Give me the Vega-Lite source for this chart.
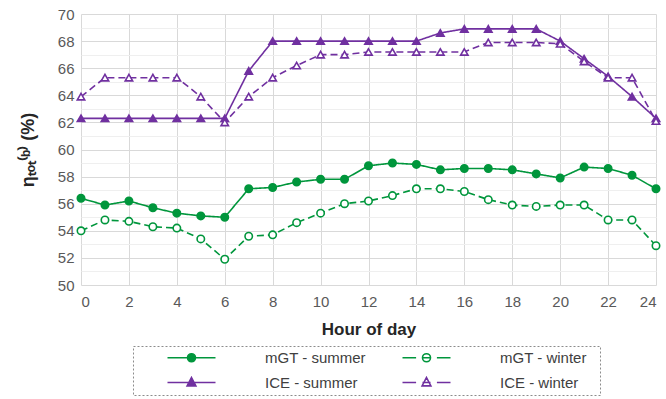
{
  "$schema": "https://vega.github.io/schema/vega-lite/v6.json",
  "width": 575,
  "height": 271,
  "autosize": {"type": "none"},
  "padding": {"left": 81, "top": 14, "right": 10, "bottom": 114},
  "background": "white",
  "config": {"view": {"stroke": null}, "font": "Liberation Sans", "legend": {"strokeDash": [2, 2], "strokeWidth": 1}},
  "datasets": {
    "rows": [
      {"hour":0,"series":"mGT - summer","eta":56.4},{"hour":1,"series":"mGT - summer","eta":55.9},{"hour":2,"series":"mGT - summer","eta":56.2},{"hour":3,"series":"mGT - summer","eta":55.7},{"hour":4,"series":"mGT - summer","eta":55.3},{"hour":5,"series":"mGT - summer","eta":55.1},{"hour":6,"series":"mGT - summer","eta":55.0},{"hour":7,"series":"mGT - summer","eta":57.1},{"hour":8,"series":"mGT - summer","eta":57.2},{"hour":9,"series":"mGT - summer","eta":57.6},{"hour":10,"series":"mGT - summer","eta":57.8},{"hour":11,"series":"mGT - summer","eta":57.8},{"hour":12,"series":"mGT - summer","eta":58.8},{"hour":13,"series":"mGT - summer","eta":59.0},{"hour":14,"series":"mGT - summer","eta":58.9},{"hour":15,"series":"mGT - summer","eta":58.5},{"hour":16,"series":"mGT - summer","eta":58.6},{"hour":17,"series":"mGT - summer","eta":58.6},{"hour":18,"series":"mGT - summer","eta":58.5},{"hour":19,"series":"mGT - summer","eta":58.2},{"hour":20,"series":"mGT - summer","eta":57.9},{"hour":21,"series":"mGT - summer","eta":58.7},{"hour":22,"series":"mGT - summer","eta":58.6},{"hour":23,"series":"mGT - summer","eta":58.1},{"hour":24,"series":"mGT - summer","eta":57.1},
      {"hour":0,"series":"mGT - winter","eta":54.0},{"hour":1,"series":"mGT - winter","eta":54.8},{"hour":2,"series":"mGT - winter","eta":54.7},{"hour":3,"series":"mGT - winter","eta":54.3},{"hour":4,"series":"mGT - winter","eta":54.2},{"hour":5,"series":"mGT - winter","eta":53.4},{"hour":6,"series":"mGT - winter","eta":51.9},{"hour":7,"series":"mGT - winter","eta":53.6},{"hour":8,"series":"mGT - winter","eta":53.7},{"hour":9,"series":"mGT - winter","eta":54.6},{"hour":10,"series":"mGT - winter","eta":55.3},{"hour":11,"series":"mGT - winter","eta":56.0},{"hour":12,"series":"mGT - winter","eta":56.2},{"hour":13,"series":"mGT - winter","eta":56.6},{"hour":14,"series":"mGT - winter","eta":57.1},{"hour":15,"series":"mGT - winter","eta":57.1},{"hour":16,"series":"mGT - winter","eta":56.9},{"hour":17,"series":"mGT - winter","eta":56.3},{"hour":18,"series":"mGT - winter","eta":55.9},{"hour":19,"series":"mGT - winter","eta":55.8},{"hour":20,"series":"mGT - winter","eta":55.9},{"hour":21,"series":"mGT - winter","eta":55.9},{"hour":22,"series":"mGT - winter","eta":54.8},{"hour":23,"series":"mGT - winter","eta":54.8},{"hour":24,"series":"mGT - winter","eta":52.9},
      {"hour":0,"series":"ICE - summer","eta":62.3},{"hour":1,"series":"ICE - summer","eta":62.3},{"hour":2,"series":"ICE - summer","eta":62.3},{"hour":3,"series":"ICE - summer","eta":62.3},{"hour":4,"series":"ICE - summer","eta":62.3},{"hour":5,"series":"ICE - summer","eta":62.3},{"hour":6,"series":"ICE - summer","eta":62.3},{"hour":7,"series":"ICE - summer","eta":65.8},{"hour":8,"series":"ICE - summer","eta":68.0},{"hour":9,"series":"ICE - summer","eta":68.0},{"hour":10,"series":"ICE - summer","eta":68.0},{"hour":11,"series":"ICE - summer","eta":68.0},{"hour":12,"series":"ICE - summer","eta":68.0},{"hour":13,"series":"ICE - summer","eta":68.0},{"hour":14,"series":"ICE - summer","eta":68.0},{"hour":15,"series":"ICE - summer","eta":68.6},{"hour":16,"series":"ICE - summer","eta":68.9},{"hour":17,"series":"ICE - summer","eta":68.9},{"hour":18,"series":"ICE - summer","eta":68.9},{"hour":19,"series":"ICE - summer","eta":68.9},{"hour":20,"series":"ICE - summer","eta":68.0},{"hour":21,"series":"ICE - summer","eta":66.7},{"hour":22,"series":"ICE - summer","eta":65.4},{"hour":23,"series":"ICE - summer","eta":63.9},{"hour":24,"series":"ICE - summer","eta":62.3},
      {"hour":0,"series":"ICE - winter","eta":63.9},{"hour":1,"series":"ICE - winter","eta":65.3},{"hour":2,"series":"ICE - winter","eta":65.3},{"hour":3,"series":"ICE - winter","eta":65.3},{"hour":4,"series":"ICE - winter","eta":65.3},{"hour":5,"series":"ICE - winter","eta":63.9},{"hour":6,"series":"ICE - winter","eta":62.0},{"hour":7,"series":"ICE - winter","eta":63.9},{"hour":8,"series":"ICE - winter","eta":65.3},{"hour":9,"series":"ICE - winter","eta":66.2},{"hour":10,"series":"ICE - winter","eta":67.0},{"hour":11,"series":"ICE - winter","eta":67.0},{"hour":12,"series":"ICE - winter","eta":67.2},{"hour":13,"series":"ICE - winter","eta":67.2},{"hour":14,"series":"ICE - winter","eta":67.2},{"hour":15,"series":"ICE - winter","eta":67.2},{"hour":16,"series":"ICE - winter","eta":67.2},{"hour":17,"series":"ICE - winter","eta":67.9},{"hour":18,"series":"ICE - winter","eta":67.9},{"hour":19,"series":"ICE - winter","eta":67.9},{"hour":20,"series":"ICE - winter","eta":67.8},{"hour":21,"series":"ICE - winter","eta":66.5},{"hour":22,"series":"ICE - winter","eta":65.3},{"hour":23,"series":"ICE - winter","eta":65.3},{"hour":24,"series":"ICE - winter","eta":62.1}
    ]
  },
  "data": {"name": "rows"},
  "encoding": {
    "x": {
      "field": "hour", "type": "quantitative",
      "scale": {"domain": [0, 24], "nice": false},
      "axis": {
        "title": "Hour of day",
        "values": [0, 2, 4, 6, 8, 10, 12, 14, 16, 18, 20, 22, 24],
        "ticks": false, "domain": false,
        "gridColor": "#d9d9d9", "gridWidth": 1,
        "labelPadding": 9, "labelFontSize": 15, "labelColor": "#595959",
        "titleFontSize": 17, "titleFontWeight": "bold", "titleColor": "#262626", "titlePadding": 12
      }
    },
    "y": {
      "field": "eta", "type": "quantitative",
      "scale": {"domain": [50, 70], "nice": false, "zero": false},
      "axis": {
        "title": "ηₜₒₜ⁽ᵇ⁾ (%)",
        "values": [50,51,52,53,54,55,56,57,58,59,60,61,62,63,64,65,66,67,68,69,70],
        "labelExpr": "datum.value % 2 === 0 ? datum.label : ''",
        "ticks": false, "domain": false,
        "gridColor": {"condition": {"test": "datum.value % 2 === 0", "value": "#d9d9d9"}, "value": "#efefef"},
        "labelPadding": 7, "labelFontSize": 15, "labelColor": "#595959",
        "titleFontSize": 18, "titleFontWeight": "bold", "titleColor": "#262626", "titlePadding": 20
      }
    }
  },
  "resolve": {"scale": {"shape": "independent", "fill": "independent", "stroke": "independent"}},
  "layer": [
    {
      "mark": {"type": "line", "strokeWidth": 1.6},
      "encoding": {
        "stroke": {
          "field": "series", "type": "nominal", "legend": null,
          "scale": {"domain": ["ICE - summer", "ICE - winter", "mGT - summer", "mGT - winter"], "range": ["#7030a0", "#7030a0", "#00963c", "#00963c"]}
        },
        "strokeDash": {
          "field": "series", "type": "nominal", "legend": null,
          "scale": {"domain": ["ICE - winter", "ICE - summer", "mGT - winter", "mGT - summer"], "range": [[7, 4], [1, 0], [7, 4], [1, 0]]}
        }
      }
    },
    {
      "mark": {"type": "point", "opacity": 1, "strokeWidth": 1.6, "size": 55},
      "encoding": {
        "shape": {
          "field": "series", "type": "nominal", "legend": null,
          "scale": {"domain": ["mGT - summer", "ICE - summer", "mGT - winter", "ICE - winter"], "range": ["circle", "triangle-up", "circle", "triangle-up"]}
        },
        "fill": {
          "field": "series", "type": "nominal", "legend": null,
          "scale": {"domain": ["mGT - winter", "ICE - winter", "mGT - summer", "ICE - summer"], "range": ["white", "white", "#00963c", "#7030a0"]}
        },
        "stroke": {
          "field": "series", "type": "nominal", "legend": null,
          "scale": {"domain": ["ICE - summer", "ICE - winter", "mGT - summer", "mGT - winter"], "range": ["#7030a0", "#7030a0", "#00963c", "#00963c"]}
        }
      }
    },
    {
      "mark": {"type": "point", "opacity": 0, "filled": false, "strokeWidth": 1.6, "size": 64},
      "encoding": {
        "shape": {
          "field": "series", "type": "nominal",
          "scale": {"domain": ["mGT - summer", "mGT - winter", "ICE - summer", "ICE - winter"],
            "range": [
              "M-13.75,0M41.5,0M-6,0H6M1,0A1,1,0,1,1,-1,0A1,1,0,1,1,1,0Z",
              "M-13.75,0M41.5,0M-6,0H-2.6M-1,0H1M2.6,0H6M1,0A1,1,0,1,1,-1,0A1,1,0,1,1,1,0Z",
              "M-13.75,0M41.5,0M-6,0H6M0,-1.25L1.1,0.85L-1.1,0.85Z",
              "M-13.75,0M41.5,0M-6,0H-2.6M-1,0H1M2.6,0H6M0,-1.25L1.1,0.85L-1.1,0.85Z"
            ]},
          "legend": {
            "title": null,
            "orient": "none", "legendX": 52, "legendY": 332,
            "direction": "horizontal", "columns": 2,
            "padding": 4, "rowPadding": 8, "columnPadding": 2,
            "symbolSize": 64, "symbolOffset": 47, "symbolOpacity": 1, "symbolStrokeWidth": 1.6, "labelOffset": 66,
            "labelFontSize": 15, "labelColor": "#404040",
            "strokeColor": "#8c8c8c"
          }
        },
        "fill": {
          "field": "series", "type": "nominal",
          "scale": {"domain": ["mGT - summer", "mGT - winter", "ICE - summer", "ICE - winter"], "range": ["#00963c", "white", "#7030a0", "white"]},
          "legend": {
            "title": null,
            "orient": "none", "legendX": 52, "legendY": 332,
            "direction": "horizontal", "columns": 2,
            "padding": 4, "rowPadding": 8, "columnPadding": 2,
            "symbolSize": 64, "symbolOffset": 47, "symbolOpacity": 1, "symbolStrokeWidth": 1.6, "labelOffset": 66,
            "labelFontSize": 15, "labelColor": "#404040",
            "strokeColor": "#8c8c8c"
          }
        },
        "stroke": {
          "field": "series", "type": "nominal",
          "scale": {"domain": ["mGT - summer", "mGT - winter", "ICE - summer", "ICE - winter"], "range": ["#00963c", "#00963c", "#7030a0", "#7030a0"]},
          "legend": {
            "title": null,
            "orient": "none", "legendX": 52, "legendY": 332,
            "direction": "horizontal", "columns": 2,
            "padding": 4, "rowPadding": 8, "columnPadding": 2,
            "symbolSize": 64, "symbolOffset": 47, "symbolOpacity": 1, "symbolStrokeWidth": 1.6, "labelOffset": 66,
            "labelFontSize": 15, "labelColor": "#404040",
            "strokeColor": "#8c8c8c"
          }
        }
      }
    }
  ]
}
